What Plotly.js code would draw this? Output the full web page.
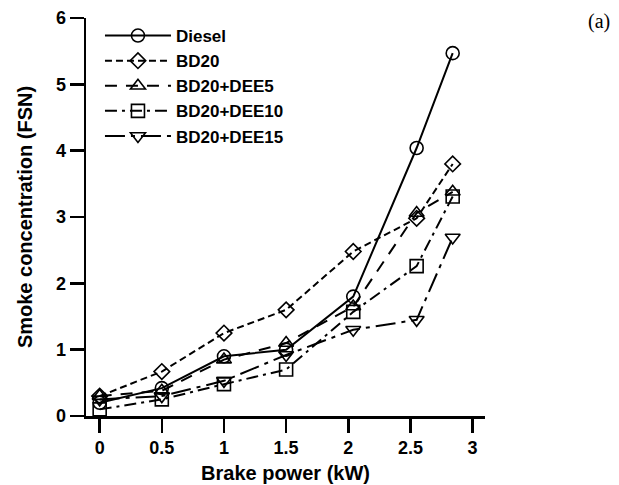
<!DOCTYPE html>
<html>
<head>
<meta charset="utf-8">
<script src="https://cdn.plot.ly/plotly-3.0.1.min.js"></script>
<style>body{margin:0;padding:0;background:#fff}#chart{width:619px;height:485px}</style>
</head>
<body>
<div id="chart"></div>
<script>
const brakePower = [0, 0.5, 1, 1.5, 2.04, 2.55, 2.84];
const seriesNames = ["Diesel", "BD20", "BD20+DEE5", "BD20+DEE10", "BD20+DEE15"];
const diesel = [0.2, 0.42, 0.9, 1.0, 1.8, 4.04, 5.47];
const bd20 = [0.3, 0.67, 1.25, 1.6, 2.48, 2.98, 3.8];
const bd20dee5 = [0.3, 0.38, 0.85, 1.1, 1.65, 3.06, 3.38];
const bd20dee10 = [0.1, 0.25, 0.48, 0.7, 1.57, 2.26, 3.31];
const bd20dee15 = [0.25, 0.3, 0.53, 0.92, 1.3, 1.45, 2.69];
const xTicks = [0, 0.5, 1, 1.5, 2, 2.5, 3];
const yTicks = [0, 1, 2, 3, 4, 5, 6];

const values = [diesel, bd20, bd20dee5, bd20dee10, bd20dee15];
const symbols = ["circle-open", "diamond-open", "triangle-up-open", "square-open", "triangle-down-open"];
const dashes = ["solid", "7px,4px", "12px,9px", "12px,5px,3px,5px", "20px,6px,4px,6px"];
const sizes = [13, 12, 13, 13, 13];
const FONT = "Liberation Sans, Arial, sans-serif";

const traces = values.map((v, i) => ({
  x: brakePower, y: v, name: seriesNames[i], type: "scatter", mode: "lines+markers",
  line: {color: "#000", width: 2, dash: dashes[i]},
  marker: {symbol: symbols[i], size: sizes[i], color: "#000", line: {color: "#000", width: 1.6}}
}));

const layout = {
  width: 619, height: 485,
  margin: {l: 86, r: 134, t: 18, b: 69},
  paper_bgcolor: "#fff", plot_bgcolor: "#fff",
  font: {family: FONT, color: "#000"},
  showlegend: true,
  legend: {x: 0.035, y: 1.0, xanchor: "left", yanchor: "top", bgcolor: "rgba(0,0,0,0)",
    itemwidth: 66, tracegroupgap: 0,
    font: {size: 17, family: FONT, weight: "bold", color: "#000"}},
  xaxis: {
    range: [-0.11, 3.1], tickvals: xTicks, ticktext: xTicks.map(String),
    showgrid: false, zeroline: false, showline: true, linecolor: "#000", linewidth: 2.5,
    ticks: "outside", ticklen: 14, tickwidth: 2.5, tickcolor: "#000",
    tickfont: {size: 18, weight: "bold", family: FONT},
    title: {text: "Brake power (kW)", font: {size: 20, weight: "bold", family: FONT}, standoff: 9}
  },
  yaxis: {
    range: [0, 6], tickvals: yTicks, ticktext: yTicks.map(String),
    showgrid: false, zeroline: false, showline: true, linecolor: "#000", linewidth: 2.5,
    ticks: "outside", ticklen: 14, tickwidth: 2.5, tickcolor: "#000",
    tickfont: {size: 18, weight: "bold", family: FONT},
    title: {text: "Smoke concentration (FSN)", font: {size: 20, weight: "bold", family: FONT}, standoff: 18}
  },
  annotations: [{
    text: "(a)", xref: "paper", yref: "paper", x: 1.285, y: 0.99, xanchor: "center", yanchor: "middle",
    showarrow: false, font: {family: "Liberation Serif, Times New Roman, serif", size: 20, color: "#000"}
  }]
};

Plotly.newPlot("chart", traces, layout, {displayModeBar: false, staticPlot: true});
</script>
</body>
</html>
